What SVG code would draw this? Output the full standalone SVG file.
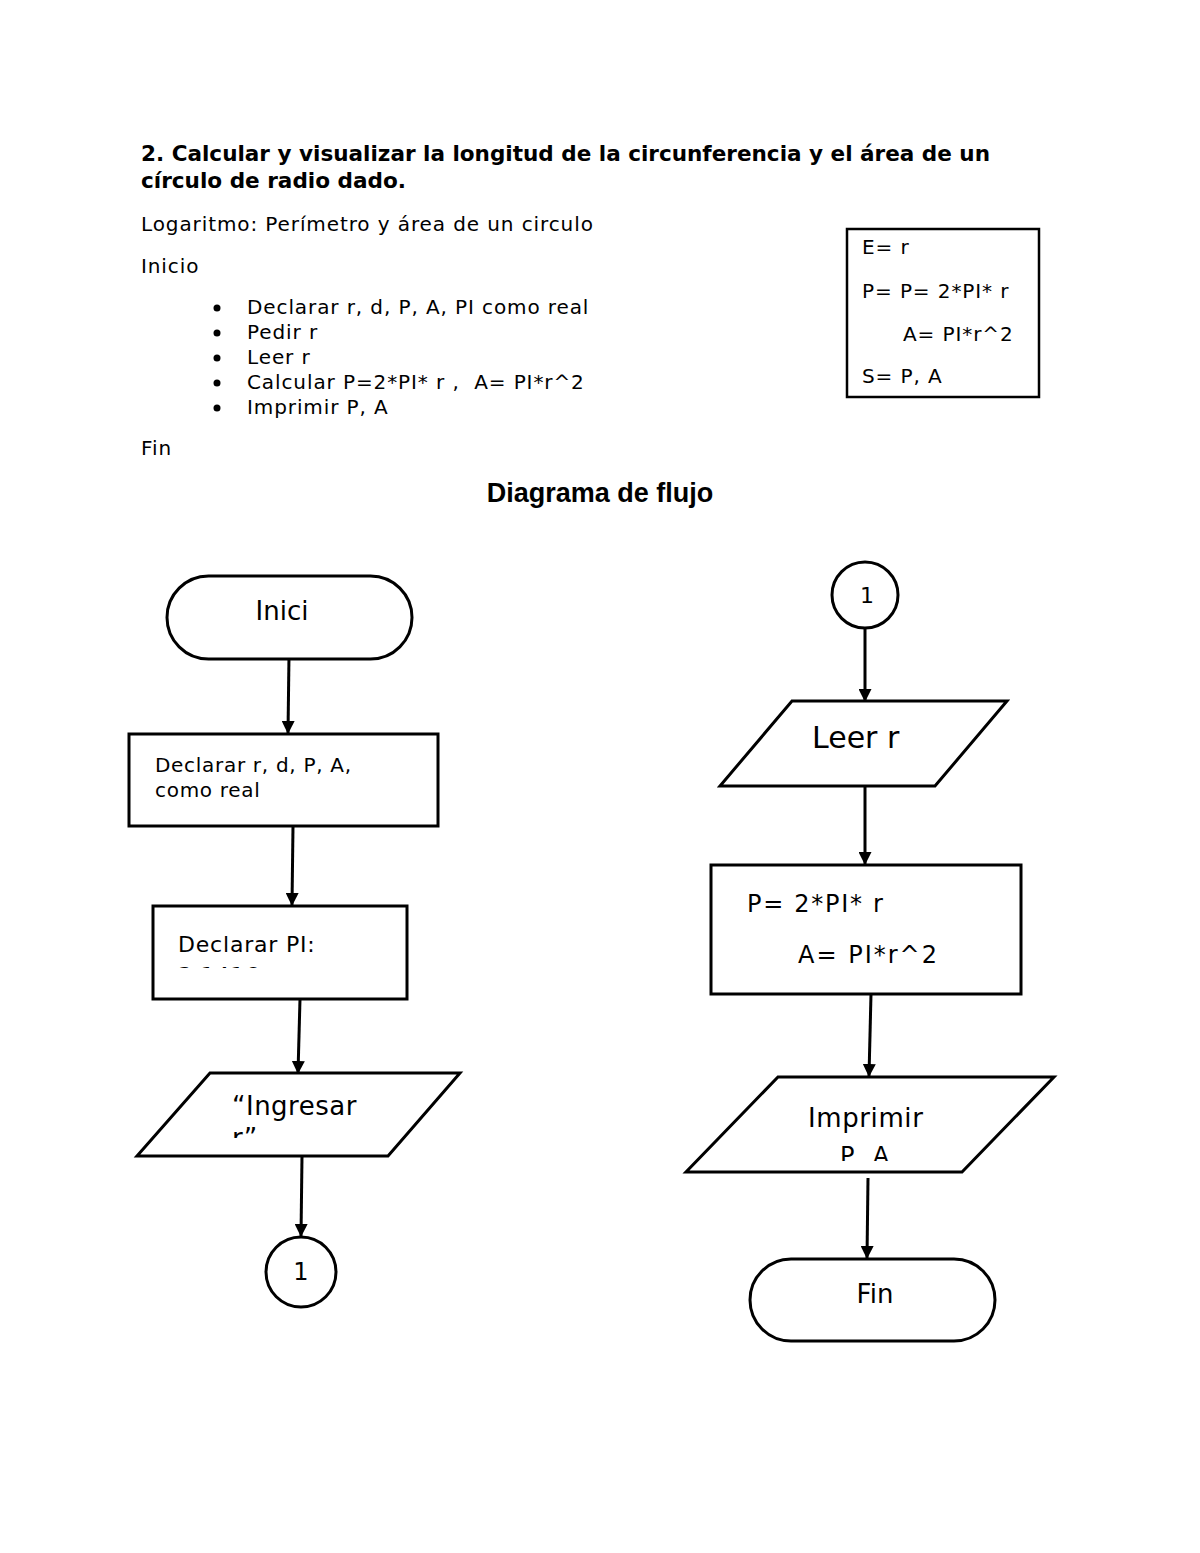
<svg xmlns="http://www.w3.org/2000/svg" width="1200" height="1553" viewBox="0 0 1200 1553">
<style>
.t{font-family:"DejaVu Sans","Liberation Sans",sans-serif;fill:#000}
.h{font-weight:bold;font-size:21px}
.p{font-size:20px;letter-spacing:0.9px}
.shape{fill:#fff;stroke:#000;stroke-width:3}
.con{stroke:#000;stroke-width:3;fill:none}
</style>
<defs>
<marker id="ah" markerWidth="13" markerHeight="13" refX="12" refY="6.5" orient="auto" markerUnits="userSpaceOnUse"><path d="M0,0 L13,6.5 L0,13 Z" fill="#000"/></marker>
<clipPath id="c1"><rect x="150" y="900" width="260" height="68"/></clipPath>
<clipPath id="c2"><rect x="130" y="1070" width="330" height="68"/></clipPath>
<clipPath id="c3"><rect x="680" y="1075" width="380" height="86"/></clipPath>
</defs>
<rect width="1200" height="1553" fill="#fff"/>
<g id="header">
<text class="t h" x="141" y="161" textLength="849" lengthAdjust="spacingAndGlyphs">2. Calcular y visualizar la longitud de la circunferencia y el área de un</text>
<text class="t h" x="141" y="188" textLength="265" lengthAdjust="spacingAndGlyphs">círculo de radio dado.</text>
<text class="t p" x="141" y="231">Logaritmo: Perímetro y área de un circulo</text>
<text class="t p" x="141" y="273">Inicio</text>
<g class="t p">
<circle cx="217" cy="308" r="3.5"/><text x="247" y="314">Declarar r, d, P, A, PI como real</text>
<circle cx="217" cy="333" r="3.5"/><text x="247" y="339">Pedir r</text>
<circle cx="217" cy="358" r="3.5"/><text x="247" y="364">Leer r</text>
<circle cx="217" cy="383" r="3.5"/><text x="247" y="389" xml:space="preserve">Calcular P=2*PI* r ,  A= PI*r^2</text>
<circle cx="217" cy="408" r="3.5"/><text x="247" y="414">Imprimir P, A</text>
</g>
<text class="t p" x="141" y="455">Fin</text>
</g>
<g id="summary-box">
<rect x="847" y="229" width="192" height="168" fill="#fff" stroke="#000" stroke-width="2.5"/>
<text class="t p" x="862" y="254">E= r</text>
<text class="t p" x="862" y="298">P= P= 2*PI* r</text>
<text class="t p" x="903" y="341">A= PI*r^2</text>
<text class="t p" x="862" y="383">S= P, A</text>
</g>
<text x="600" y="502" text-anchor="middle" font-family="Liberation Sans, Arial, sans-serif" font-weight="bold" font-size="27">Diagrama de flujo</text>
<g id="connectors">
<line class="con" x1="289" y1="655" x2="288" y2="733" marker-end="url(#ah)"/>
<line class="con" x1="293" y1="826" x2="292" y2="905" marker-end="url(#ah)"/>
<line class="con" x1="300" y1="999" x2="298" y2="1073" marker-end="url(#ah)"/>
<line class="con" x1="302" y1="1156" x2="301" y2="1236" marker-end="url(#ah)"/>
<line class="con" x1="865" y1="627" x2="865" y2="701" marker-end="url(#ah)"/>
<line class="con" x1="865" y1="786" x2="865" y2="864" marker-end="url(#ah)"/>
<line class="con" x1="871" y1="994" x2="869" y2="1076" marker-end="url(#ah)"/>
<line class="con" x1="868" y1="1178" x2="867" y2="1258" marker-end="url(#ah)"/>
</g>
<g id="inici">
<rect class="shape" x="167" y="576" width="245" height="83" rx="41.5"/>
<text class="t" x="282" y="620" font-size="26" text-anchor="middle">Inici</text>
</g>
<g id="declarar1">
<rect class="shape" x="129" y="734" width="309" height="92"/>
<text class="t" x="155" y="772" font-size="20" letter-spacing="0.7">Declarar r, d, P, A,</text>
<text class="t" x="155" y="797" font-size="20" letter-spacing="0.7">como real</text>
</g>
<g id="declarar2">
<rect class="shape" x="153" y="906" width="254" height="93"/>
<text class="t" x="178" y="952" font-size="22" letter-spacing="0.8">Declarar PI:</text>
<text class="t" x="178" y="983" font-size="22" letter-spacing="0.8" clip-path="url(#c1)">3.1416</text>
</g>
<g id="ingresar">
<polygon class="shape" points="210,1073 460,1073 388,1156 137,1156"/>
<text class="t" x="232" y="1115" font-size="26" letter-spacing="0.5">“Ingresar</text>
<text class="t" x="232" y="1147" font-size="26" clip-path="url(#c2)">r”</text>
</g>
<g id="conn1a">
<circle class="shape" cx="301" cy="1272" r="35"/>
<text class="t" x="301" y="1280" font-size="24" text-anchor="middle">1</text>
</g>
<g id="conn1b">
<circle class="shape" cx="865" cy="595" r="33"/>
<text class="t" x="867" y="603" font-size="22" text-anchor="middle">1</text>
</g>
<g id="leer">
<polygon class="shape" points="792,701 1007,701 935,786 720,786"/>
<text class="t" x="812" y="748" font-size="30">Leer r</text>
</g>
<g id="calcular">
<rect class="shape" x="711" y="865" width="310" height="129"/>
<text class="t" x="747" y="912" font-size="24" letter-spacing="1.7">P= 2*PI* r</text>
<text class="t" x="798" y="963" font-size="24" letter-spacing="2">A= PI*r^2</text>
</g>
<g id="imprimir">
<polygon class="shape" points="778,1077 1054,1077 962,1172 686,1172"/>
<text class="t" x="808" y="1127" font-size="26" letter-spacing="0.6">Imprimir</text>
<text class="t" x="840" y="1164" font-size="24" letter-spacing="1" clip-path="url(#c3)">P, A</text>
</g>
<g id="fin">
<rect class="shape" x="750" y="1259" width="245" height="82" rx="41"/>
<text class="t" x="875" y="1303" font-size="26" text-anchor="middle">Fin</text>
</g>
</svg>
